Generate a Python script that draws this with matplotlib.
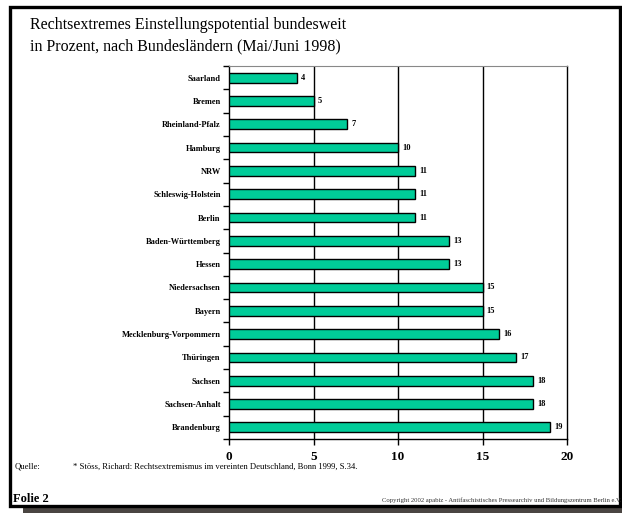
import numpy as np
import matplotlib
matplotlib.use('Agg')
import matplotlib.pyplot as plt
from matplotlib.patches import Rectangle

laender = ['Saarland', 'Bremen', 'Rheinland-Pfalz', 'Hamburg', 'NRW',
           'Schleswig-Holstein', 'Berlin', 'Baden-Württemberg', 'Hessen',
           'Niedersachsen', 'Bayern', 'Mecklenburg-Vorpommern', 'Thüringen',
           'Sachsen', 'Sachsen-Anhalt', 'Brandenburg']
prozent = [4, 5, 7, 10, 11, 11, 11, 13, 13, 15, 15, 16, 17, 18, 18, 19]
xticks = [0, 5, 10, 15, 20]

title = 'Rechtsextremes Einstellungspotential bundesweit\nin Prozent, nach Bundesländern (Mai/Juni 1998)'
quelle = '* Stöss, Richard: Rechtsextremismus im vereinten Deutschland, Bonn 1999, S.34.'
copyright_txt = 'Copyright 2002 apabiz - Antifaschistisches Pressearchiv und Bildungszentrum Berlin e.V.'

plt.rcParams['font.family'] = ['Liberation Serif', 'DejaVu Serif']

W, H = 622, 513
fig = plt.figure(figsize=(W / 100, H / 100), dpi=100)

def fx(px):
    return px / W

def fy(py):
    return 1 - py / H

# shadow + slide frame
fig.patches.append(Rectangle((fx(23), 0), 1.0, fy(12), transform=fig.transFigure,
                             facecolor='#4a4542', edgecolor='none', zorder=0))
fig.patches.append(Rectangle((fx(10), fy(506)), fx(610), (506 - 7) / H,
                             transform=fig.transFigure, facecolor='white',
                             edgecolor='black', linewidth=2.4, zorder=1))

ax = fig.add_axes([fx(229), fy(439), fx(567 - 229), (439 - 66) / H])
ax.set_zorder(2)
y = np.arange(len(laender))
ax.barh(y, prozent, height=0.42, color='#00cc99', edgecolor='black',
        linewidth=1.0, zorder=3)
for yi, v in zip(y, prozent):
    ax.text(v + 0.25, yi, str(v), va='center', ha='left', fontsize=6,
            fontweight='bold', zorder=4)

ax.set_xlim(0, 20)
ax.set_ylim(len(laender) - 0.5, -0.5)
ax.set_xticks(xticks)
ax.set_xticklabels([str(t) for t in xticks], fontsize=9.5, fontweight='bold')
ax.tick_params(axis='x', direction='out', length=4, width=1, pad=4.5)
ax.set_yticks(y)
ax.set_yticklabels(laender, fontsize=6, fontweight='bold')
ax.tick_params(axis='y', which='major', length=0, pad=6)
ax.set_yticks(np.arange(len(laender) + 1) - 0.5, minor=True)
ax.tick_params(axis='y', which='minor', direction='out', length=4, width=1)
for t in xticks[1:-1]:
    ax.axvline(t, color='black', linewidth=1, zorder=1)
ax.spines['top'].set_color('#888888')
for s in ['left', 'bottom', 'right']:
    ax.spines[s].set_color('black')
    ax.spines[s].set_linewidth(1)

fig.text(fx(30), fy(36), title, fontsize=11.5, ha='left', va='center',
         linespacing=1.45, zorder=5)
fig.text(fx(15), fy(467), 'Quelle:', fontsize=6.2, ha='left', va='center')
fig.text(fx(73), fy(467), quelle, fontsize=6.2, ha='left', va='center')
fig.text(fx(13), fy(499), 'Folie 2', fontsize=9, fontweight='bold',
         ha='left', va='center')
fig.text(fx(621), fy(500), copyright_txt, fontsize=4.8, ha='right',
         va='center', color='#333333')

fig.savefig('out.png', dpi=100)
